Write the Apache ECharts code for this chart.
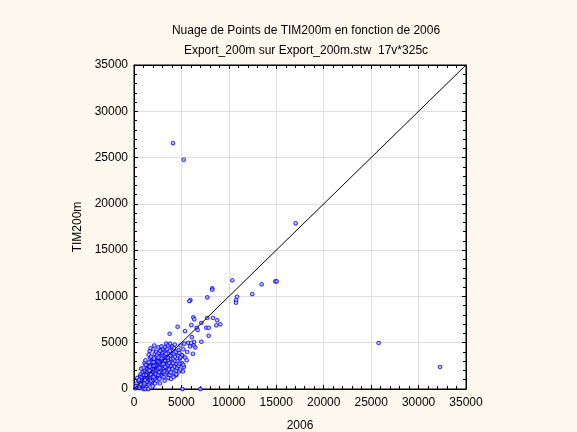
<!DOCTYPE html>
<html>
<head>
<meta charset="utf-8">
<script src="https://cdn.jsdelivr.net/npm/echarts@6/dist/echarts.min.js"></script>
<style>
  html, body { margin: 0; padding: 0; background: #fdf9ef; }
  #chart { width: 577px; height: 432px; }
</style>
</head>
<body>
<div id="chart"></div>
<script>
// titres
const titleLine1 = 'Nuage de Points de TIM200m en fonction de 2006';
const titleLine2 = 'Export_200m sur Export_200m.stw  17v*325c';
const xName = '2006';
const yName = 'TIM200m';
const axisTicks = [0, 5000, 10000, 15000, 20000, 25000, 30000, 35000];

// nuage principal (approx.)
const cluster = [
  [150,80],[300,200],[250,600],[400,350],[450,900],[350,1200],[500,150],[200,300],[600,100],
  [600,300],[700,800],[650,1400],[800,500],[850,1100],[900,1800],[750,2200],[950,250],[550,1000],[980,700],[700,1600],
  [800,1300],[900,400],[950,1500],[700,500],[880,900],
  [1050,400],[1100,900],[1150,1300],[1200,1700],[1250,2100],[1300,600],[1350,1100],[1400,1500],[1450,2500],[1100,2800],
  [1200,3100],[1300,200],[1400,900],[1050,1500],[1150,2000],[1250,1000],[1350,1900],[1450,1200],[1480,700],[1020,2300],
  [1100,600],[1200,1200],[1300,1500],[1400,2200],[1250,2600],[1350,800],[1150,1000],[1450,1800],
  [1550,500],[1600,1000],[1650,1400],[1700,1800],[1750,2200],[1800,2600],[1850,3000],[1900,1200],[1950,1600],[1520,2000],
  [1580,2400],[1620,2900],[1680,3400],[1720,700],[1780,1300],[1820,1700],[1880,2100],[1920,2500],[1980,300],[1550,3700],
  [1650,4100],[1700,1000],[1800,3500],[1900,800],[1960,2900],[1750,4400],
  [1600,1600],[1700,2400],[1800,900],[1900,1900],[1650,2000],[1850,1500],[1750,1600],[1950,2200],
  [2050,1000],[2100,1500],[2150,1900],[2200,2300],[2250,2700],[2300,3100],[2350,3500],[2400,1200],[2450,1800],[2020,2500],
  [2080,2900],[2120,3300],[2180,3800],[2220,600],[2280,1400],[2320,2000],[2380,2600],[2420,3000],[2480,2200],[2060,4300],
  [2140,4700],[2340,4000],[2440,3700],[2010,1900],[2200,1100],[2360,900],[2500,2800],[2470,1500],[2100,2100],
  [2150,2500],[2250,1700],[2350,2300],[2450,2500],[2050,1300],[2300,1600],[2400,2000],
  [2550,1500],[2600,2000],[2650,2400],[2700,2800],[2750,3200],[2800,3600],[2850,1700],[2900,2200],[2950,2600],[2520,3000],
  [2580,3400],[2620,3900],[2680,1100],[2720,1900],[2780,2500],[2820,3000],[2880,4200],[2920,3300],[2980,1400],[2560,4500],
  [2760,4100],[2860,2700],[2960,3700],[2540,2200],[2640,2900],[2740,600],[2840,2100],[2900,4600],
  [2600,2600],[2700,2300],[2800,1900],[2900,2900],[2650,1800],[2750,2700],
  [3050,1800],[3100,2300],[3150,2800],[3200,3200],[3250,3600],[3300,2000],[3350,2600],[3400,3000],[3450,3400],[3020,3900],
  [3080,4300],[3120,1300],[3180,2500],[3220,4000],[3280,4500],[3320,1600],[3380,3800],[3420,2200],[3480,2700],[3060,3000],
  [3260,3100],[3360,4200],[3460,1800],[3000,2600],[3230,900],[3400,4900],
  [3100,2700],[3300,2400],[3200,1900],[3400,3400],
  [3550,2000],[3600,2600],[3650,3100],[3700,3500],[3750,1500],[3800,2300],[3850,2900],[3900,3300],[3950,3900],[3520,4300],
  [3580,4700],[3620,1200],[3680,2100],[3720,2800],[3780,4100],[3820,3600],[3880,1800],[3920,2500],[3980,4500],
  [3800,4900],[3900,1100],[3550,3400],
  [4050,2200],[4100,2800],[4150,3300],[4200,3800],[4250,1700],[4300,2400],[4350,3000],[4400,4000],[4450,2000],[4020,4600],
  [4180,1300],[4220,4400],[4320,3500],[4480,2700],[4460,1500],[4300,4800],
  [4550,2300],[4600,3000],[4650,3600],[4700,4200],[4750,1900],[4800,2700],[4850,3300],[4900,4700],
  [4680,2500],[4780,3900],[4880,2100],
  [5050,2800],[5100,3600],[5200,4300],[5300,4900],[5400,3400],[5250,2400],[5150,1900],
  [5600,4000],[5700,5000],[5900,4600],[5550,3100],
  [6100,5600],[6300,4700],[6200,3800],
  [1000,0],[1200,0],[1500,0],[5100,0],[7000,0]
];

// points isolés
const outliers = [
  [10365,11740],[13460,11310],[14900,11630],[15040,11630],[12470,10260],[10860,9970],[10750,9610],[10750,9320],
  [8250,10880],[8250,10730],[7730,9900],[5940,9610],[5830,9500],[6250,7740],[6360,7530],[7730,7670],[8330,7670],
  [8780,7420],[9100,6990],[8680,6880],[7620,6620],[7870,6620],[7870,5760],[7100,7130],[6610,6620],[6710,6370],
  [6040,6910],[4600,6730],[3760,5970],[5380,6260],[7100,5110],[6330,5080],[6010,5000],[6460,4500],[5060,3640],
  [4880,3420],[4780,2730],[5200,2620],[4460,1590],
  [4110,26570],[5240,24770],[17040,17900],[25790,4970],[32260,2380]
];

const diagonal = [[0, 0], [35000, 35000]];

const chart = echarts.init(document.getElementById('chart'));
const fontColor = '#000';
const font = 'Liberation Sans, Arial, sans-serif';

const tickLabel = (v) => (axisTicks.indexOf(v) >= 0 ? String(v) : '');

const baseAxis = {
  type: 'value',
  min: 0,
  max: 35000,
  interval: 5000,
  axisLine: { show: true, onZero: false, lineStyle: { color: '#000', width: 1 } },
  axisTick: { show: true, inside: true, length: 4, lineStyle: { color: '#000' } },
  minorTick: { show: true, splitNumber: 5, length: 3, lineStyle: { color: '#000' } },
  splitLine: { show: false },
  axisLabel: { show: false },
};

chart.setOption({
  backgroundColor: '#fdf9ef',
  animation: false,
  textStyle: { fontFamily: font },
  title: [
    {
      text: titleLine1,
      left: 301,
      top: 20,
      textAlign: 'center',
      textStyle: { fontSize: 12, fontWeight: 'normal', color: fontColor, fontFamily: font },
    },
    {
      text: titleLine2,
      left: 301,
      top: 40,
      textAlign: 'center',
      textStyle: { fontSize: 12, fontWeight: 'normal', color: fontColor, fontFamily: font },
    },
  ],
  grid: {
    left: 134,
    right: 111,
    top: 65,
    bottom: 43,
    containLabel: false,
    outerBoundsMode: 'none',
    show: true,
    backgroundColor: '#fff',
    borderColor: '#000',
    borderWidth: 1,
  },
  xAxis: [
    Object.assign({}, baseAxis, {
      position: 'bottom',
      name: xName,
      nameLocation: 'middle',
      nameGap: 31,
      nameTextStyle: { color: fontColor, fontSize: 12, fontFamily: font },
      splitLine: { show: true, lineStyle: { color: '#dedede', width: 1 } },
      axisLabel: { show: true, color: fontColor, fontSize: 12, margin: 8, formatter: tickLabel },
    }),
    Object.assign({}, baseAxis, { position: 'top' }),
  ],
  yAxis: [
    Object.assign({}, baseAxis, {
      position: 'left',
      name: yName,
      nameLocation: 'middle',
      nameGap: 50,
      nameTextStyle: { color: fontColor, fontSize: 12, fontFamily: font },
      splitLine: { show: true, lineStyle: { color: '#dedede', width: 1 } },
      axisLabel: { show: true, color: fontColor, fontSize: 12, margin: 6, formatter: tickLabel },
    }),
    Object.assign({}, baseAxis, { position: 'right' }),
  ],
  series: [
    {
      type: 'scatter',
      data: cluster.concat(outliers),
      symbol: 'circle',
      symbolSize: 3.5,
      itemStyle: { color: '#c8c8ff', borderColor: '#0000ff', borderWidth: 1.1 },
      z: 3,
    },
    {
      type: 'line',
      data: diagonal,
      symbol: 'none',
      lineStyle: { color: '#000', width: 1 },
      z: 4,
    },
  ],
});
</script>
</body>
</html>
